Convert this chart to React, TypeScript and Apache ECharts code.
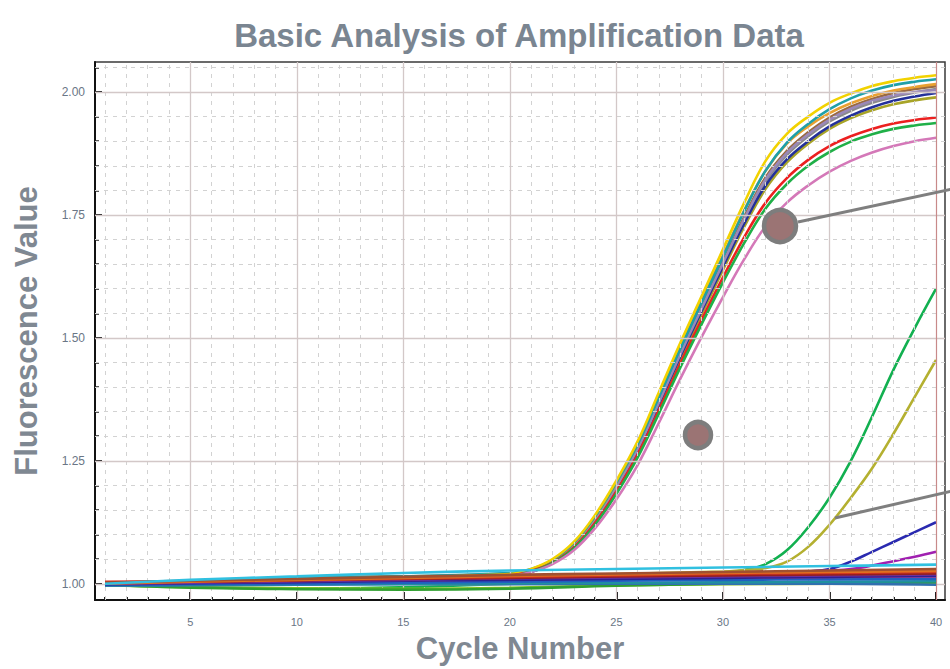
import React, { useEffect, useRef } from "react";
import * as echarts from "echarts";

// ---- data ----
const AMP_CYCLES = [1, 10, 20, 21, 22, 23, 24, 25, 26, 27, 28, 29, 30, 31, 32, 33, 34, 35, 36, 37, 38, 39, 40];
const LATE_CYCLES = [1, 10, 20, 30, 31, 32, 33, 34, 35, 36, 37, 38, 39, 40];
const BASE_CYCLES = [1, 5, 10, 15, 20, 25, 30, 35, 40];

const ampYellow = [1.0, 1.008, 1.02, 1.03, 1.05, 1.085, 1.14, 1.21, 1.29, 1.39, 1.49, 1.585, 1.68, 1.775, 1.86, 1.915, 1.95, 1.978, 1.997, 2.012, 2.022, 2.029, 2.034];
const ampOrange = [1.0, 1.006, 1.018, 1.028, 1.047, 1.082, 1.136, 1.205, 1.285, 1.383, 1.482, 1.576, 1.668, 1.76, 1.84, 1.895, 1.93, 1.957, 1.977, 1.992, 2.003, 2.01, 2.016];
const ampTeal = [1.0, 1.01, 1.022, 1.03, 1.048, 1.083, 1.137, 1.206, 1.284, 1.38, 1.478, 1.572, 1.665, 1.758, 1.84, 1.897, 1.935, 1.965, 1.987, 2.003, 2.014, 2.021, 2.026];
const ampGray = [1.0, 1.005, 1.015, 1.025, 1.043, 1.076, 1.128, 1.195, 1.272, 1.367, 1.465, 1.558, 1.65, 1.74, 1.818, 1.872, 1.91, 1.94, 1.962, 1.978, 1.99, 1.999, 2.006];
const ampBrown = [1.0, 1.012, 1.02, 1.028, 1.045, 1.078, 1.13, 1.198, 1.276, 1.372, 1.47, 1.563, 1.655, 1.746, 1.826, 1.88, 1.918, 1.948, 1.97, 1.986, 1.998, 2.006, 2.012];
const ampOlive = [1.0, 1.006, 1.016, 1.026, 1.043, 1.075, 1.125, 1.19, 1.266, 1.36, 1.456, 1.548, 1.638, 1.726, 1.803, 1.857, 1.895, 1.925, 1.947, 1.963, 1.975, 1.983, 1.989];
const ampNavy = [1.0, 1.004, 1.014, 1.024, 1.042, 1.075, 1.126, 1.192, 1.27, 1.365, 1.462, 1.555, 1.645, 1.733, 1.81, 1.863, 1.9, 1.93, 1.952, 1.969, 1.982, 1.991, 1.998];
const ampViolet = [1.0, 1.008, 1.018, 1.027, 1.045, 1.078, 1.13, 1.197, 1.274, 1.369, 1.467, 1.56, 1.652, 1.742, 1.822, 1.876, 1.914, 1.944, 1.966, 1.982, 1.993, 2.0, 2.004];
const ampRed = [1.0, 1.006, 1.017, 1.026, 1.043, 1.074, 1.124, 1.188, 1.263, 1.354, 1.448, 1.537, 1.623, 1.705, 1.775, 1.825, 1.862, 1.89, 1.91, 1.925, 1.936, 1.943, 1.948];
const ampGreen = [1.0, 1.004, 1.015, 1.025, 1.042, 1.072, 1.12, 1.183, 1.257, 1.347, 1.44, 1.528, 1.613, 1.693, 1.763, 1.813, 1.85, 1.878, 1.899, 1.914, 1.925, 1.932, 1.937];
const ampPink = [1.0, 1.005, 1.016, 1.024, 1.04, 1.068, 1.113, 1.172, 1.242, 1.328, 1.417, 1.502, 1.583, 1.66, 1.727, 1.775, 1.81, 1.838, 1.86, 1.877, 1.89, 1.9, 1.907];

const lateGreen = [1.0, 0.99, 1.0, 1.022, 1.028, 1.04, 1.068, 1.115, 1.175, 1.25, 1.34, 1.435, 1.52, 1.6];
const lateOlive = [1.0, 1.005, 1.015, 1.025, 1.028, 1.032, 1.045, 1.075, 1.12, 1.175, 1.235, 1.305, 1.38, 1.455];
const lateBlue = [1.0, 1.004, 1.012, 1.02, 1.021, 1.022, 1.023, 1.025, 1.03, 1.045, 1.065, 1.085, 1.105, 1.125];
const latePurple = [1.0, 1.006, 1.014, 1.02, 1.021, 1.022, 1.023, 1.025, 1.027, 1.03, 1.037, 1.046, 1.055, 1.065];

const baseCyan = [1.0, 1.008, 1.015, 1.022, 1.027, 1.03, 1.033, 1.036, 1.039];
const baseBrown = [1.002, 1.006, 1.01, 1.014, 1.018, 1.021, 1.024, 1.027, 1.03];
const baseOrange = [1.0, 1.004, 1.008, 1.012, 1.016, 1.019, 1.022, 1.024, 1.026];
const baseRed = [1.004, 1.005, 1.008, 1.011, 1.014, 1.017, 1.02, 1.022, 1.024];
const baseDarkRed = [1.003, 1.004, 1.007, 1.01, 1.012, 1.015, 1.017, 1.019, 1.021];
const basePurple = [1.0, 1.002, 1.005, 1.008, 1.011, 1.013, 1.015, 1.017, 1.019];
const baseNavy = [0.999, 1.001, 1.003, 1.006, 1.008, 1.01, 1.012, 1.014, 1.016];
const baseMagenta = [1.001, 1.003, 1.005, 1.007, 1.009, 1.011, 1.013, 1.014, 1.015];
const baseBlue = [0.998, 0.999, 1.0, 1.002, 1.004, 1.006, 1.008, 1.009, 1.01];
const baseTeal = [0.997, 0.998, 0.999, 1.0, 1.001, 1.002, 1.003, 1.004, 1.005];
const baseGreen = [0.998, 0.992, 0.989, 0.988, 0.99, 0.996, 1.0, 1.002, 1.003];
const baseLime = [0.997, 0.993, 0.991, 0.99, 0.992, 0.997, 0.999, 1.0, 1.0];
const baseSteel = [0.996, 0.997, 0.998, 0.999, 0.999, 1.0, 1.0, 1.0, 0.998];

const X_LABEL_TICKS = [5, 10, 15, 20, 25, 30, 35, 40];
const X_MINOR_TICKS = [1, 2, 3, 4, 5, 6, 7, 8, 9, 10, 11, 12, 13, 14, 15, 16, 17, 18, 19, 20, 21, 22, 23, 24, 25, 26, 27, 28, 29, 30, 31, 32, 33, 34, 35, 36, 37, 38, 39, 40];
const X_MINOR_GRID = [1, 2, 3, 4, 6, 7, 8, 9, 11, 12, 13, 14, 16, 17, 18, 19, 21, 22, 23, 24, 26, 27, 28, 29, 31, 32, 33, 34, 36, 37, 38, 39];
const X_MAJOR_GRID = [5, 10, 15, 20, 25, 30, 35];
const Y_LABEL_TICKS = [1.0, 1.25, 1.5, 1.75, 2.0];
const Y_MINOR_TICKS = [1.0, 1.05, 1.1, 1.15, 1.2, 1.25, 1.3, 1.35, 1.4, 1.45, 1.5, 1.55, 1.6, 1.65, 1.7, 1.75, 1.8, 1.85, 1.9, 1.95, 2.0, 2.05];
const Y_MINOR_GRID = [1.05, 1.1, 1.15, 1.2, 1.3, 1.35, 1.4, 1.45, 1.55, 1.6, 1.65, 1.7, 1.8, 1.85, 1.9, 1.95, 2.05];
const Y_MAJOR_GRID = [1.0, 1.25, 1.5, 1.75, 2.0];

const X_MIN = 0.53;
const X_MAX = 40.42;
const Y_MIN = 0.967;
const Y_MAX = 2.061;

const AMP_SERIES: [string, number[]][] = [
  ["#8a8a8a", ampGray],
  ["#9a6a40", ampBrown],
  ["#a8a428", ampOlive],
  ["#23309a", ampNavy],
  ["#9a88b8", ampViolet],
  ["#e8a030", ampOrange],
  ["#1fa0a8", ampTeal],
  ["#f2d200", ampYellow],
  ["#ec2020", ampRed],
  ["#20b048", ampGreen],
  ["#d478b8", ampPink],
];
const LATE_SERIES: [string, number[]][] = [
  ["#12b050", lateGreen],
  ["#b4b030", lateOlive],
  ["#2a2ab0", lateBlue],
  ["#a020b0", latePurple],
];
const BASE_SERIES: [string, number[]][] = [
  ["#80c020", baseLime],
  ["#30a030", baseGreen],
  ["#3070b0", baseSteel],
  ["#2090a0", baseTeal],
  ["#2060c0", baseBlue],
  ["#b03090", baseMagenta],
  ["#302090", baseNavy],
  ["#7030a0", basePurple],
  ["#902020", baseDarkRed],
  ["#d03020", baseRed],
  ["#e07020", baseOrange],
  ["#a05030", baseBrown],
  ["#30c0e0", baseCyan],
];

function pairs(xs: number[], ys: number[]) {
  return xs.map((x, i) => [x, ys[i]]);
}

export default function App() {
  const ref = useRef<HTMLDivElement>(null);
  useEffect(() => {
    if (!ref.current) return;
    const chart = echarts.init(ref.current, null, { renderer: "svg" });
    const font = "'Liberation Sans', Arial, sans-serif";
    const lineSeries = (color: string, data: number[][], z: number) => ({
      type: "line",
      data,
      showSymbol: false,
      smooth: 0.4,
      z,
      lineStyle: { color, width: 2.6 },
      itemStyle: { color },
      silent: true,
    });
    const gridMarks = {
      type: "line",
      data: [[X_MIN, Y_MIN]],
      showSymbol: false,
      lineStyle: { opacity: 0 },
      silent: true,
      z: 1,
      markLine: {
        silent: true,
        symbol: ["none", "none"],
        label: { show: false },
        animation: false,
        data: [
          ...X_MINOR_GRID.map((v) => ({ xAxis: v, lineStyle: { color: "#d2d2d2", width: 1, type: [4, 5] } })),
          ...Y_MINOR_GRID.map((v) => ({ yAxis: v, lineStyle: { color: "#d2d2d2", width: 1, type: [4, 5] } })),
          ...X_MAJOR_GRID.map((v) => ({ xAxis: v, lineStyle: { color: "#d3c8c8", width: 1.3, type: "solid" } })),
          ...Y_MAJOR_GRID.map((v) => ({ yAxis: v, lineStyle: { color: "#d3c8c8", width: 1.3, type: "solid" } })),
          { xAxis: 40, lineStyle: { color: "#c88a8a", width: 1.2, type: "solid" } },
        ],
      },
    };
    const series: any[] = [gridMarks];
    AMP_SERIES.forEach(([c, d]) => series.push(lineSeries(c, pairs(AMP_CYCLES, d), 3)));
    LATE_SERIES.forEach(([c, d]) => series.push(lineSeries(c, pairs(LATE_CYCLES, d), 4)));
    BASE_SERIES.forEach(([c, d]) => series.push(lineSeries(c, pairs(BASE_CYCLES, d), 5)));

    chart.setOption({
      animation: false,
      backgroundColor: "#ffffff",
      title: {
        text: "Basic Analysis of Amplification Data",
        left: 514,
        top: 14,
        textAlign: "center",
        textStyle: { fontFamily: font, fontSize: 33, fontWeight: "bold", color: "#7a8591" },
      },
      grid: {
        left: 95,
        right: 5,
        top: 62,
        bottom: 69,
        show: true,
        borderColor: "#3a3a3a",
        borderWidth: 1.5,
        backgroundColor: "#ffffff",
      },
      xAxis: [
        {
          type: "value",
          min: X_MIN,
          max: X_MAX,
          position: "bottom",
          name: "Cycle Number",
          nameLocation: "middle",
          nameGap: 33,
          nameTextStyle: { fontFamily: font, fontSize: 31, fontWeight: "bold", color: "#7f8892" },
          axisLine: { show: true, onZero: false, lineStyle: { color: "#111", width: 2 } },
          axisTick: { show: true, inside: true, length: 8, customValues: X_LABEL_TICKS, lineStyle: { color: "#111", width: 2 } },
          axisLabel: { customValues: X_LABEL_TICKS, margin: 16, fontFamily: font, fontSize: 11, color: "#6a7686" },
          splitLine: { show: false },
        },
        {
          type: "value",
          min: X_MIN,
          max: X_MAX,
          position: "bottom",
          axisLine: { show: false, onZero: false },
          axisTick: { show: true, inside: true, length: 3, customValues: X_MINOR_TICKS, lineStyle: { color: "#222", width: 2 } },
          axisLabel: { show: false },
          splitLine: { show: false },
        },
      ],
      yAxis: [
        {
          type: "value",
          min: Y_MIN,
          max: Y_MAX,
          position: "left",
          name: "Fluorescence Value",
          nameLocation: "middle",
          nameGap: 53,
          nameRotate: 90,
          nameTextStyle: { fontFamily: font, fontSize: 31, fontWeight: "bold", color: "#7f8892" },
          axisLine: { show: true, onZero: false, lineStyle: { color: "#111", width: 2 } },
          axisTick: { show: true, inside: true, length: 7, customValues: Y_LABEL_TICKS, lineStyle: { color: "#111", width: 2 } },
          axisLabel: {
            customValues: Y_LABEL_TICKS,
            margin: 10,
            fontFamily: font,
            fontSize: 12,
            color: "#6a7686",
            formatter: (v: number) => v.toFixed(2),
          },
          splitLine: { show: false },
        },
        {
          type: "value",
          min: Y_MIN,
          max: Y_MAX,
          position: "left",
          axisLine: { show: false, onZero: false },
          axisTick: { show: true, inside: true, length: 4, customValues: Y_MINOR_TICKS, lineStyle: { color: "#222", width: 1.5 } },
          axisLabel: { show: false },
          splitLine: { show: false },
        },
      ],
      series,
      graphic: [
        { type: "line", z: 100, shape: { x1: 798, y1: 222, x2: 952, y2: 189 }, style: { stroke: "#7f7f7f", lineWidth: 3 } },
        { type: "circle", z: 101, shape: { cx: 780, cy: 226, r: 16 }, style: { fill: "#9b7474", stroke: "#7d7d7d", lineWidth: 4.5 } },
        { type: "circle", z: 101, shape: { cx: 698, cy: 435, r: 13 }, style: { fill: "#9b7474", stroke: "#7d7d7d", lineWidth: 4.5 } },
        { type: "line", z: 100, shape: { x1: 835, y1: 518, x2: 952, y2: 491 }, style: { stroke: "#7f7f7f", lineWidth: 3 } },
      ],
    });
    return () => chart.dispose();
  }, []);
  return <div ref={ref} style={{ position: "fixed", left: 0, top: 0, width: 950, height: 669 }} />;
}
